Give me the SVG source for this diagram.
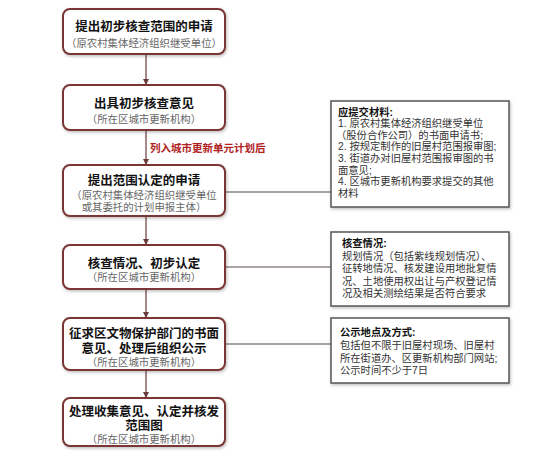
<svg xmlns="http://www.w3.org/2000/svg" width="550" height="464" viewBox="0 0 550 464">
<defs>
<filter id="sh" x="-10%" y="-10%" width="120%" height="130%">
<feDropShadow dx="1" dy="1.5" stdDeviation="1.5" flood-color="#000" flood-opacity="0.25"/>
</filter>
<marker id="arr" viewBox="0 0 6 6" refX="6" refY="3" markerWidth="5" markerHeight="5" orient="auto">
<path d="M0,0 L6,3 L0,6 z" fill="#6b3a3a"/>
</marker>
<style>
.node{fill:#fff;stroke:#7a3434;stroke-width:2;filter:url(#sh)}
.note{fill:#fff;stroke:#555;stroke-width:1.5;filter:url(#sh)}
.t{font-family:"Liberation Sans","Noto Sans CJK SC",sans-serif;font-size:12.5px;font-weight:bold;fill:#111;text-anchor:middle}
.s{font-family:"Liberation Sans","Noto Sans CJK SC",sans-serif;font-size:10.4px;fill:#666;text-anchor:middle}
.nt{font-family:"Liberation Sans","Noto Sans CJK SC",sans-serif;font-size:10.3px;font-weight:bold;fill:#111}
.n{font-family:"Liberation Sans","Noto Sans CJK SC",sans-serif;font-size:10.3px;fill:#333}
.red{font-family:"Liberation Sans","Noto Sans CJK SC",sans-serif;font-size:10.5px;font-weight:bold;fill:#b0201c}
.c{stroke:#6b3a3a;stroke-width:1.2;fill:none}
.h{stroke:#5a4848;stroke-width:1.2;fill:none}
</style>
</defs>
<rect width="550" height="464" fill="#fff"/>
<g id="connectors">
<line class="c" x1="146" y1="54" x2="146" y2="85" marker-end="url(#arr)"/>
<line class="c" x1="146" y1="130" x2="146" y2="165" marker-end="url(#arr)"/>
<line class="c" x1="146" y1="216" x2="146" y2="245" marker-end="url(#arr)"/>
<line class="c" x1="146" y1="289" x2="146" y2="318" marker-end="url(#arr)"/>
<line class="c" x1="146" y1="370" x2="146" y2="398" marker-end="url(#arr)"/>
<line class="h" x1="225" y1="192" x2="331" y2="192"/>
<line class="h" x1="225" y1="267" x2="331" y2="267"/>
<line class="h" x1="225" y1="344" x2="331" y2="344"/>
<text class="red" x="150" y="152">列入城市更新单元计划后</text>
</g>
<g id="n1">
<rect class="node" x="63" y="9" width="162" height="45" rx="7"/>
<text class="t" x="144" y="31">提出初步核查范围的申请</text>
<text class="s" x="144" y="47">（原农村集体经济组织继受单位）</text>
</g>
<g id="n2">
<rect class="node" x="63" y="85" width="162" height="45" rx="7"/>
<text class="t" x="144" y="108">出具初步核查意见</text>
<text class="s" x="144" y="123">（所在区城市更新机构）</text>
</g>
<g id="n3">
<rect class="node" x="63" y="165" width="162" height="51" rx="7"/>
<text class="t" x="144" y="185">提出范围认定的申请</text>
<text class="s" x="144" y="199">（原农村集体经济组织继受单位</text>
<text class="s" x="144" y="211">或其委托的计划申报主体）</text>
</g>
<g id="n4">
<rect class="node" x="63" y="245" width="162" height="44" rx="7"/>
<text class="t" x="144" y="268">核查情况、初步认定</text>
<text class="s" x="144" y="281">（所在区城市更新机构）</text>
</g>
<g id="n5">
<rect class="node" x="63" y="318" width="162" height="52" rx="7"/>
<text class="t" x="144" y="338">征求区文物保护部门的书面</text>
<text class="t" x="144" y="353">意见、处理后组织公示</text>
<text class="s" x="144" y="366">（所在区城市更新机构）</text>
</g>
<g id="n6">
<rect class="node" x="63" y="398" width="162" height="48" rx="7"/>
<text class="t" x="144" y="416">处理收集意见、认定并核发</text>
<text class="t" x="144" y="430">范围图</text>
<text class="s" x="144" y="443">（所在区城市更新机构）</text>
</g>
<g id="noteA">
<rect class="note" x="331" y="101" width="178" height="106"/>
<text class="nt" x="338" y="115.5">应提交材料:</text>
<text class="n" x="338" y="127.1">1. 原农村集体经济组织继受单位</text>
<text class="n" x="336" y="138.7">（股份合作公司）的书面申请书;</text>
<text class="n" x="338" y="150.3">2. 按规定制作的旧屋村范围报审图;</text>
<text class="n" x="338" y="161.9">3. 街道办对旧屋村范围报审图的书</text>
<text class="n" x="338" y="173.5">面意见;</text>
<text class="n" x="338" y="185.1">4. 区城市更新机构要求提交的其他</text>
<text class="n" x="338" y="196.7">材料</text>
</g>
<g id="noteB">
<rect class="note" x="331" y="232" width="178" height="74"/>
<text class="nt" x="342" y="247">核查情况:</text>
<text class="n" x="342" y="259.5">规划情况（包括紫线规划情况）、</text>
<text class="n" x="342" y="272">征转地情况、核发建设用地批复情</text>
<text class="n" x="342" y="284.5">况、土地使用权出让与产权登记情</text>
<text class="n" x="342" y="297">况及相关测绘结果是否符合要求</text>
</g>
<g id="noteC">
<rect class="note" x="331" y="318" width="178" height="65"/>
<text class="nt" x="340" y="336">公示地点及方式:</text>
<text class="n" x="340" y="349">包括但不限于旧屋村现场、旧屋村</text>
<text class="n" x="340" y="361.5">所在街道办、区更新机构部门网站;</text>
<text class="n" x="340" y="374">公示时间不少于7日</text>
</g>
</svg>
